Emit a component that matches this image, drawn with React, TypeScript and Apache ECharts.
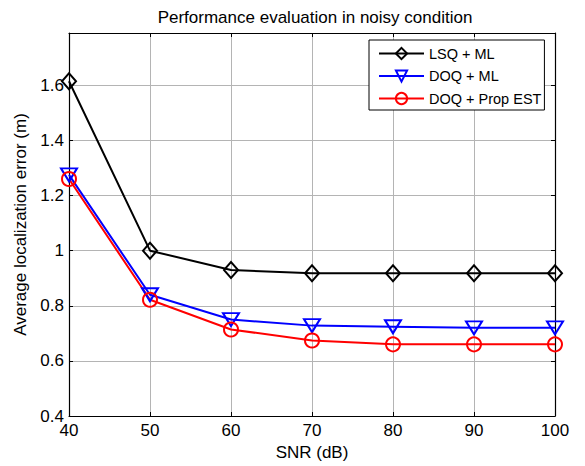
import React, { useEffect, useRef } from "react";
import * as echarts from "echarts";

const snr = [40, 50, 60, 70, 80, 90, 100];
const lsqMl = [1.615, 1.0, 0.93, 0.918, 0.918, 0.918, 0.918];
const doqMl = [1.275, 0.84, 0.75, 0.728, 0.724, 0.72, 0.72];
const doqProp = [1.26, 0.822, 0.714, 0.674, 0.66, 0.66, 0.66];
const seriesNames = ["LSQ + ML", "DOQ + ML", "DOQ + Prop EST"];

const FONT = "Liberation Sans, Arial, sans-serif";

export default function App() {
  const ref = useRef<HTMLDivElement>(null);
  useEffect(() => {
    const chart = echarts.init(ref.current!, null, { renderer: "svg" });
    const mk = (name: string, data: number[], color: string, symbol: string, size: number[], rotate = 0) => ({
      name,
      type: "line",
      data: snr.map((x, i) => [x, data[i]]),
      symbol,
      symbolSize: size,
      symbolRotate: rotate,
      showAllSymbol: true,
      lineStyle: { color, width: 2 },
      itemStyle: { color: "rgba(255,255,255,0)", borderColor: color, borderWidth: 2 },
      emphasis: { disabled: true },
      z: 3,
    });
    const axisCommon = {
      axisLine: { show: true, onZero: false, lineStyle: { color: "#000", width: 1.2 } },
      axisTick: { show: true, inside: true, length: 4, lineStyle: { color: "#000" } },
    };
    chart.setOption({
      animation: false,
      backgroundColor: "#fff",
      title: {
        text: "Performance evaluation in noisy condition",
        left: 310,
        textAlign: "center",
        top: 4,
        textStyle: { fontFamily: FONT, fontSize: 17, fontWeight: "normal", color: "#000" },
      },
      grid: { left: 69, top: 33, right: 30, bottom: 50, containLabel: false },
      legend: {
        left: 369,
        top: 40,
        orient: "vertical",
        data: seriesNames,
        itemWidth: 45,
        itemHeight: 14,
        itemGap: 7.5,
        padding: [6, 3, 4, 9],
        backgroundColor: "#fff",
        borderColor: "#000",
        borderWidth: 1,
        borderRadius: 0,
        textStyle: { fontFamily: FONT, fontSize: 14.5, color: "#000" },
      },
      xAxis: [
        {
          type: "value",
          min: 40,
          max: 100,
          interval: 10,
          name: "SNR (dB)",
          nameLocation: "middle",
          nameGap: 25,
          nameTextStyle: { fontFamily: FONT, fontSize: 17, color: "#000" },
          axisLabel: { fontFamily: FONT, fontSize: 17, color: "#000", margin: 6 },
          splitLine: { show: true, lineStyle: { color: "#b4b4b4", width: 1 } },
          ...axisCommon,
        },
        {
          type: "value",
          position: "top",
          min: 40,
          max: 100,
          interval: 10,
          axisLabel: { show: false },
          splitLine: { show: false },
          ...axisCommon,
        },
      ],
      yAxis: [
        {
          type: "value",
          min: 0.4,
          max: 1.79,
          interval: 0.2,
          name: "Average localization error (m)",
          nameLocation: "middle",
          nameGap: 28,
          nameTextStyle: { fontFamily: FONT, fontSize: 17, color: "#000" },
          axisLabel: {
            fontFamily: FONT,
            fontSize: 17,
            color: "#000",
            margin: 5,
            showMaxLabel: false,
            formatter: (v: number) => String(Math.round(v * 10) / 10),
          },
          splitLine: { show: true, lineStyle: { color: "#b4b4b4", width: 1 } },
          ...axisCommon,
        },
        {
          type: "value",
          position: "right",
          min: 0.4,
          max: 1.79,
          interval: 0.2,
          axisLabel: { show: false },
          splitLine: { show: false },
          ...axisCommon,
        },
      ],
      series: [
        mk(seriesNames[0], lsqMl, "#000000", "diamond", [14, 16]),
        mk(seriesNames[1], doqMl, "#0000ff", "triangle", [16, 13], 180),
        mk(seriesNames[2], doqProp, "#ff0000", "circle", [14, 14]),
      ],
    });
    return () => chart.dispose();
  }, []);
  return (
    <div
      ref={ref}
      style={{ position: "fixed", left: 0, top: 0, width: 585, height: 466 }}
    />
  );
}
